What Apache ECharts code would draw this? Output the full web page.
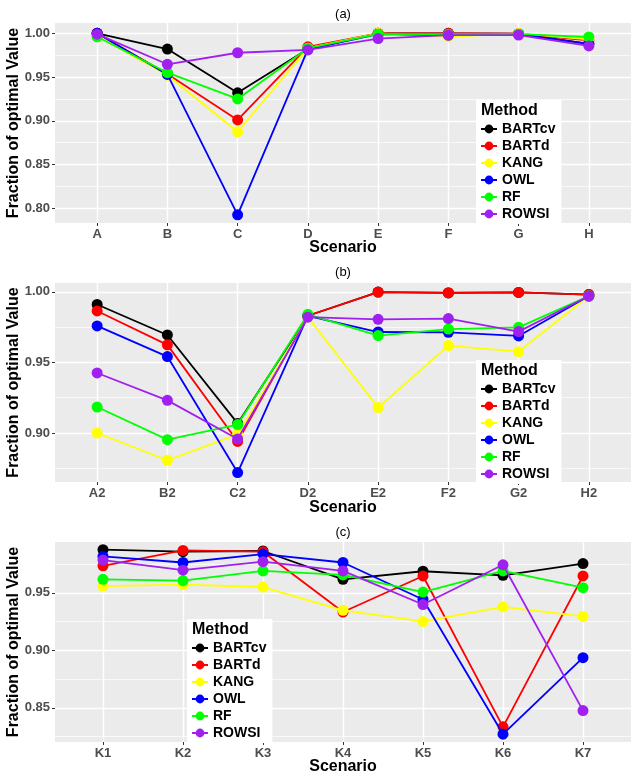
<!DOCTYPE html>
<html><head><meta charset="utf-8">
<script src="https://cdn.jsdelivr.net/npm/echarts@6/dist/echarts.min.js"></script>
<style>html,body{margin:0;padding:0;background:#fff}#c{width:639px;height:781px}</style>
</head><body><div id="c"></div>
<script>
const methods = ['BARTcv','BARTd','KANG','OWL','RF','ROWSI'];
const colors = ['#000000','#FF0000','#FFFF00','#0000FF','#00FF00','#A020F0'];

const catsA = ['A','B','C','D','E','F','G','H'];
const aBARTcv = [1.000,0.982,0.932,0.982,1.000,1.000,0.9995,0.988];
const aBARTd  = [1.000,0.9535,0.901,0.9846,1.000,1.000,0.9995,0.992];
const aKANG   = [0.997,0.952,0.8875,0.983,1.000,0.996,1.000,0.993];
const aOWL    = [1.000,0.953,0.7925,0.9817,0.999,0.998,0.999,0.988];
const aRF     = [0.996,0.955,0.925,0.983,0.999,0.999,0.999,0.9958];
const aROWSI  = [0.999,0.9646,0.9778,0.981,0.994,0.998,0.998,0.9856];

const catsB = ['A2','B2','C2','D2','E2','F2','G2','H2'];
const bBARTcv = [0.991,0.9694,0.9068,0.983,0.9998,0.9992,0.9995,0.998];
const bBARTd  = [0.9864,0.9624,0.894,0.983,0.9998,0.9993,0.9995,0.998];
const bKANG   = [0.900,0.8807,0.899,0.982,0.918,0.9619,0.9576,0.997];
const bOWL    = [0.9758,0.9541,0.872,0.983,0.9715,0.9713,0.9687,0.997];
const bRF     = [0.9184,0.8953,0.906,0.984,0.969,0.9736,0.9748,0.997];
const bROWSI  = [0.9425,0.9231,0.8958,0.982,0.9805,0.981,0.9718,0.997];

const catsC = ['K1','K2','K3','K4','K5','K6','K7'];
const cBARTcv = [0.9874,0.9857,0.9863,0.9617,0.9687,0.9652,0.9754];
const cBARTd  = [0.9734,0.9868,0.9857,0.9333,0.9646,0.8336,0.9646];
const cKANG   = [0.9558,0.957,0.955,0.9348,0.9251,0.9377,0.9295];
const cOWL    = [0.9816,0.9763,0.9836,0.9763,0.9442,0.8272,0.8936];
const cRF     = [0.9617,0.9605,0.969,0.9655,0.9506,0.969,0.9544];
const cROWSI  = [0.9784,0.9696,0.977,0.969,0.9398,0.9743,0.8477];

const majorA = [0.80,0.85,0.90,0.95,1.00], minorA = [0.825,0.875,0.925,0.975];
const majorB = [0.90,0.95,1.00], minorB = [0.875,0.925,0.975];
const majorC = [0.85,0.90,0.95], minorC = [0.825,0.875,0.925,0.975];

const panels = [
  {title:'(a)', cats:catsA, series:[aBARTcv,aBARTd,aKANG,aOWL,aRF,aROWSI], major:majorA, minor:minorA,
   ymin:0.7832, ymax:1.0118, top:23, height:200, titleY:14, xTitleY:248, legLeft:476, legTop:100},
  {title:'(b)', cats:catsB, series:[bBARTcv,bBARTd,bKANG,bOWL,bRF,bROWSI], major:majorB, minor:minorB,
   ymin:0.8653, ymax:1.0062, top:283, height:199, titleY:272, xTitleY:508, legLeft:476, legTop:360},
  {title:'(c)', cats:catsC, series:[cBARTcv,cBARTd,cKANG,cOWL,cRF,cROWSI], major:majorC, minor:minorC,
   ymin:0.8204, ymax:0.9941, top:542, height:200, titleY:532, xTitleY:767, legLeft:187, legTop:619}
];

const FONT = 'Liberation Sans, Arial, Helvetica, sans-serif';
const gridLeft = 55, gridRight = 8;
const cx = gridLeft + (639 - gridLeft - gridRight) / 2;

const option = {animation:false, grid:[], xAxis:[], yAxis:[], series:[], legend:[], graphic:[]};

panels.forEach((p, pi) => {
  option.grid.push({left:gridLeft, right:gridRight, top:p.top, height:p.height, show:true,
    backgroundColor:'#EBEBEB', borderWidth:0});
  const idx = p.cats.map((c, i) => i);
  option.xAxis.push({type:'value', gridIndex:pi, min:-0.6, max:p.cats.length - 1 + 0.6,
    axisLine:{show:false, onZero:false},
    axisTick:{show:true, length:3, customValues:idx, lineStyle:{color:'#333', width:1}},
    axisLabel:{customValues:idx, formatter:v => p.cats[Math.round(v)], margin:5,
      color:'#4D4D4D', fontWeight:'bold', fontSize:13, fontFamily:FONT},
    splitLine:{show:true, lineStyle:{color:'#FFFFFF', width:1.4}}});
  const yi = option.yAxis.length;
  option.yAxis.push({type:'value', gridIndex:pi, min:p.ymin, max:p.ymax,
    axisLine:{show:false, onZero:false},
    axisTick:{show:true, length:3, customValues:p.major, lineStyle:{color:'#333', width:1}},
    axisLabel:{customValues:p.major, formatter:v => v.toFixed(2), margin:5,
      color:'#4D4D4D', fontWeight:'bold', fontSize:13, fontFamily:FONT},
    splitLine:{show:true, lineStyle:{color:'#FFFFFF', width:1.4}}});
  option.yAxis.push({type:'value', gridIndex:pi, min:p.ymin, max:p.ymax, position:'left',
    axisLine:{show:false, onZero:false}, axisLabel:{show:false},
    axisTick:{show:false, customValues:p.minor},
    splitLine:{show:true, lineStyle:{color:'#FFFFFF', width:0.7}}});
  methods.forEach((m, mi) => {
    option.series.push({type:'line', name:m, xAxisIndex:pi, yAxisIndex:yi,
      data:p.series[mi].map((v, i) => [i, v]),
      symbol:'circle', symbolSize:11, color:colors[mi],
      lineStyle:{width:1.8, color:colors[mi]}, itemStyle:{color:colors[mi]}, z:2 + mi});
  });
  option.legend.push({data:methods, orient:'vertical', left:p.legLeft, top:p.legTop,
    backgroundColor:'#FFFFFF', padding:[22,6,3,4], itemWidth:16, itemHeight:11, itemGap:3,
    textStyle:{color:'#000', fontWeight:'bold', fontSize:14, fontFamily:FONT, lineHeight:11},
    selectedMode:false, z:10});
  option.graphic.push(
    {type:'text', x:cx, y:p.titleY, z:100, style:{text:p.title, font:'13px ' + FONT, fill:'#000', align:'center', verticalAlign:'middle'}},
    {type:'text', x:cx, y:p.xTitleY, z:100, style:{text:'Scenario', font:'bold 16px ' + FONT, fill:'#000', align:'center', verticalAlign:'middle'}},
    {type:'text', x:14, y:p.top + p.height / 2, rotation:Math.PI / 2, z:100, style:{text:'Fraction of optimal Value', font:'bold 16px ' + FONT, fill:'#000', align:'center', verticalAlign:'middle'}},
    {type:'text', x:p.legLeft + 5, y:p.legTop + 11, z:100, style:{text:'Method', font:'bold 16px ' + FONT, fill:'#000', align:'left', verticalAlign:'middle'}}
  );
});

const chart = echarts.init(document.getElementById('c'), null, {renderer:'canvas'});
chart.setOption(option);
</script></body></html>
